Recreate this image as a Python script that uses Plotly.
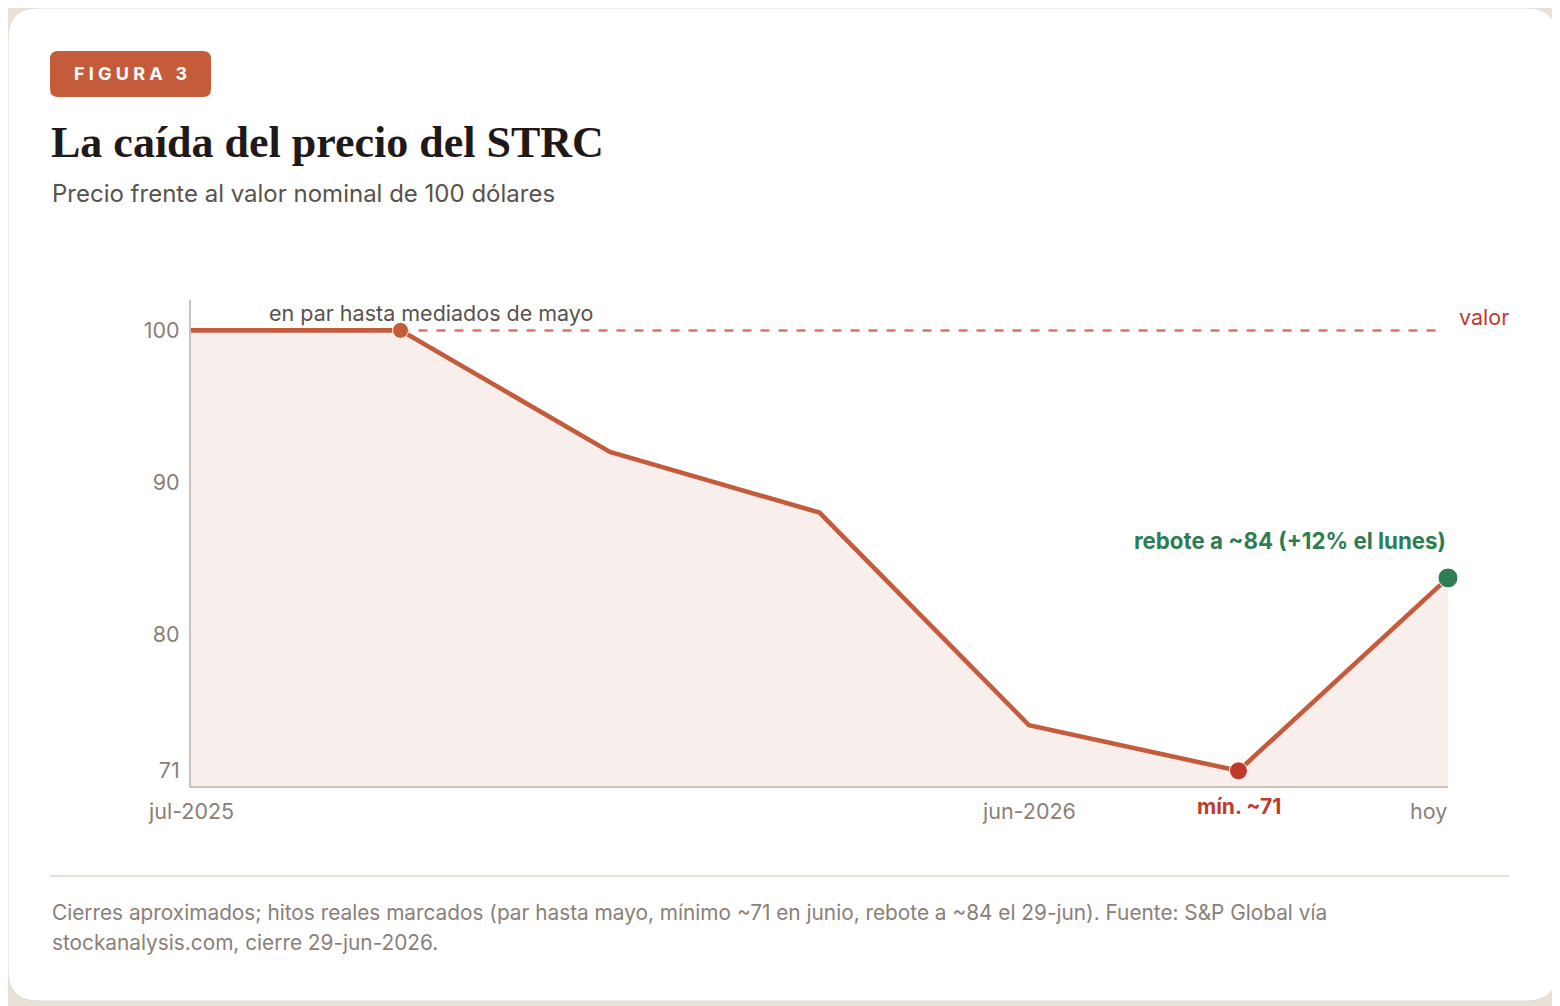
import plotly.graph_objects as go

# data
points = [0, 1, 2, 3, 4, 5, 6]
price = [100, 100, 92, 88, 74, 71, 83.7]
par_value = 100
y_ticks = [71, 80, 90, 100]
x_labels = ["jul-2025", "jun-2026", "mín. ~71", "hoy"]
x_label_pos = [0, 4, 5, 6]

# the page puts the figure 8px in from the top-left, so positions below are
# page pixels and get shifted back by OFF
OFF = 8
W, H = 1560 - OFF, 1006 - OFF
SANS = "Inter, Roboto, 'Noto Sans', sans-serif"
SERIF = "'Liberation Serif', 'DejaVu Serif', serif"
LINE = "#c45c3c"
RED = "#c0392b"
GREEN = "#2e7d52"
GREY = "#8a8078"
DARK = "#5a524c"


def px(x):
    return (x - OFF) / W


def py(y):
    return 1 - (y - OFF) / H


def rounded_rect(x0, y0, x1, y1, r):
    # pixel coords in, paper path out
    rx, ry = r / W, r / H
    a, b, c, d = px(x0), py(y0), px(x1), py(y1)
    return (f"M {a + rx},{b} L {c - rx},{b} Q {c},{b} {c},{b - ry} "
            f"L {c},{d + ry} Q {c},{d} {c - rx},{d} L {a + rx},{d} "
            f"Q {a},{d} {a},{d + ry} L {a},{b - ry} Q {a},{b} {a + rx},{b} Z")


fig = go.Figure()

# shaded area under the price
fig.add_trace(go.Scatter(x=points, y=price, mode="lines", fill="tozeroy",
                         fillcolor="#f8eeeb", line=dict(color="rgba(0,0,0,0)", width=0),
                         hoverinfo="skip", showlegend=False))
# par line
fig.add_trace(go.Scatter(x=[points[1], points[-1] - 0.025], y=[par_value, par_value], mode="lines",
                         line=dict(color="#d9766a", width=2.5, dash="9px,9px"),
                         showlegend=False))
# price line
fig.add_trace(go.Scatter(x=points, y=price, mode="lines",
                         line=dict(color=LINE, width=4.6), showlegend=False))
# milestone markers
fig.add_trace(go.Scatter(x=[points[1], points[5], points[6]],
                         y=[price[1], price[5], price[6]], mode="markers",
                         marker=dict(color=[LINE, RED, GREEN], size=[16, 18, 20], opacity=1),
                         cliponaxis=False, showlegend=False))

shapes = [
    dict(type="path", xref="paper", yref="paper", layer="below",
         path=rounded_rect(8, 8, 1557, 1001, 30), fillcolor="white",
         line=dict(color="#e2d9cd", width=1)),
    dict(type="path", xref="paper", yref="paper", layer="above",
         path=rounded_rect(50, 51, 211, 97, 8), fillcolor=LINE, line=dict(width=0)),
    dict(type="line", xref="paper", yref="paper", x0=px(50), x1=px(1509),
         y0=py(876), y1=py(876), line=dict(color="#ddd5cc", width=1.5)),
]

gap = "\u2009\u200a"
badge = gap.join("FIGURA") + gap + " " + gap + "3"
annotations = [
    dict(text=f"<b>{badge}</b>", x=px(130), y=py(74),
         xanchor="center", font=dict(family=SANS, size=18, color="white")),
    dict(text="<b>La caída del precio del STRC</b>", x=px(49), y=py(143), xanchor="left",
         font=dict(family=SERIF, size=44, color="#1f1a17")),
    dict(text="Precio frente al valor nominal de 100 dólares", x=px(50), y=py(193),
         xanchor="left", font=dict(family=SANS, size=24, color=DARK)),
    dict(text="Cierres aproximados; hitos reales marcados (par hasta mayo, mínimo ~71 en junio, "
              "rebote a ~84 el 29-jun). Fuente: S&P Global vía",
         x=px(50), y=py(912), xanchor="left", font=dict(family=SANS, size=20.8, color=GREY)),
    dict(text="stockanalysis.com, cierre 29-jun-2026.", x=px(50), y=py(942), xanchor="left",
         font=dict(family=SANS, size=20.8, color=GREY)),
    dict(text="en par hasta mediados de mayo", x=px(431), y=py(313), xanchor="center",
         font=dict(family=SANS, size=21.5, color=DARK)),
    dict(text="valor", x=px(1457), y=py(317), xanchor="left",
         font=dict(family=SANS, size=21.5, color=RED)),
    dict(text="<b>rebote a ~84 (+12% el lunes)</b>", x=px(1448), y=py(540), xanchor="right",
         font=dict(family=SANS, size=22.3, color=GREEN)),
]
for lbl, pos in zip(x_labels, x_label_pos):
    a = dict(text=lbl, x=pos, xref="x", y=py(811), xanchor="center",
             font=dict(family=SANS, size=21.5, color=GREY))
    if lbl.startswith("mín"):
        a["text"] = f"<b>{lbl}</b>"
        a["y"] = py(806)
        a["font"] = dict(family=SANS, size=21, color=RED)
    if lbl == "hoy":
        a["xanchor"] = "right"
        a["x"] = pos
        a["xshift"] = 1
    annotations.append(a)
for a in annotations:
    a.setdefault("xref", "paper")
    a.setdefault("yref", "paper")
    a.setdefault("showarrow", False)
    a.setdefault("yanchor", "middle")

fig.update_layout(
    width=W, height=H,
    margin=dict(l=0, r=0, t=0, b=0),
    paper_bgcolor="#e9e1d5", plot_bgcolor="white",
    shapes=shapes, annotations=annotations,
    xaxis=dict(domain=[px(191), px(1448)], range=[0, 6], showgrid=False, zeroline=False,
               showticklabels=False, showline=True, linecolor="#cbc2ba", linewidth=2),
    yaxis=dict(domain=[py(786), py(300)], range=[70, 102], showgrid=False, zeroline=False,
               tickvals=y_ticks, ticklabelstandoff=5,
               tickfont=dict(family=SANS, size=21.5, color=GREY),
               showline=True, linecolor="#cbc2ba", linewidth=2),
    hovermode=False,
)

fig.write_html("out.html")
